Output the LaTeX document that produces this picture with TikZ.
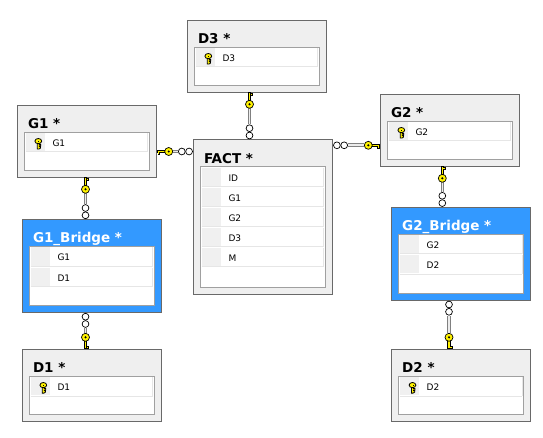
\documentclass[tikz,border=0pt]{standalone}
\usepackage{fontspec}
\setmainfont{DejaVu Sans}
\usetikzlibrary{calc}
\definecolor{bordergrey}{HTML}{696969}
\definecolor{panelgrey}{HTML}{EFEFEF}
\definecolor{framegrey}{HTML}{A0A0A0}
\definecolor{cellgrey}{HTML}{F0F0F0}
\definecolor{sepgrey}{HTML}{E6E6E6}
\definecolor{selblue}{HTML}{3399FF}
\definecolor{keyyellow}{HTML}{FFF200}
\tikzset{
  x=1pt,y=-1pt,
  tablebox/.style={draw=bordergrey,line width=1pt,fill=panelgrey,anchor=north west,minimum width=139.4pt,inner sep=0pt,outer sep=0pt},
  tableblue/.style={tablebox,fill=selblue},
  gridbox/.style={draw=framegrey,line width=1pt,fill=white,anchor=north west,minimum width=125.4pt,inner sep=0pt,outer sep=0pt},
  titletext/.style={anchor=base west,inner sep=0pt,font=\bfseries\fontsize{13.5}{14}\selectfont},
  titlewhite/.style={titletext,text=white},
  rowtext/.style={anchor=base west,inner sep=0pt,font=\fontsize{9}{10}\selectfont,text=black},
  selector/.style={fill=cellgrey,draw=none},
  sepline/.style={draw=sepgrey,line width=.8pt},
  relbar/.style={draw=gray,line width=3.6pt},
  relcore/.style={draw=white!85!gray,line width=1.6pt},
  chainlink/.style={draw=black,fill=white,line width=.7pt},
  keypart/.style={draw=black,fill=keyyellow,line width=.7pt},
}
\newcommand{\dbtable}[7]{%
  \node[#7,minimum height=#4 pt] (#1) at (#2,#3) {};
  \node[#5] (#1title) at ($(#1.north west)+(10.5,23.5)$) {#6};
  \node[gridbox,minimum height=#4 pt-34pt] (#1grid) at ($(#1.north west)+(7,27)$) {};
}
\newcommand{\dbrow}[4]{%
  \fill[selector] ($(#1grid.north west)+(1.5,1+20*#2)$) rectangle ($(#1grid.north west)+(20.5,19+20*#2)$);
  \draw[sepline] ($(#1grid.north west)+(1.5,19.6+20*#2)$) -- ($(#1grid.north east)+(-2,19.6+20*#2)$);
  \draw[sepline] ($(#1grid.north east)+(-2,1+20*#2)$) -- ($(#1grid.north east)+(-2,19.6+20*#2)$);
  \node[rowtext] (#4) at ($(#1grid.north west)+(28,14.5+20*#2)$) {#3};
}
\newcommand{\smallkey}[1]{%
  \begin{scope}[shift={($(#1grid.north west)+(14,11)$)}]
    \draw[keypart,line width=.8pt] (-1,0) -- (1,0) -- (1,1.2) -- (2.4,1.2) -- (2.4,2.6) -- (1,2.6) -- (1,3.4) -- (2.2,3.4) -- (2.2,4.8) -- (.6,5.8) -- (-1,5.8) -- cycle;
    \draw[keypart,line width=.8pt] (0,-2.2) ellipse (3.4 and 2.6);
    \fill[black] (0,-2.6) rectangle (1,-1.8);
  \end{scope}
}
% relation: key end, many end, direction angle, mirror factor
\newcommand{\relation}[4]{%
  \coordinate (ba) at ($(#1)!16pt!(#2)$);
  \coordinate (bb) at ($(#2)!15.5pt!(#1)$);
  \coordinate (ca) at ($(#2)!11.5pt!(#1)$);
  \coordinate (cb) at ($(#2)!4.2pt!(#1)$);
  \draw[relbar] (ba) -- (bb);
  \draw[relcore] (ba) -- (bb);
  \draw[chainlink] (ca) circle (3.4);
  \draw[chainlink] (cb) circle (3.4);
  \begin{scope}[shift={(#1)},rotate=#3,yscale=#4]
    \fill[keypart] (.5,-1.2) rectangle (9,1.2);
    \draw[black,line width=.7pt] (1.2,1.2) -- (1.2,3) -- (3,3) -- (3,1.2);
    \fill[keyyellow] (1.5,1) rectangle (2.7,2.7);
    \draw[keypart] (12,0) circle (4);
    \fill[black] (12,0) circle (1.2);
  \end{scope}
}
\begin{document}
\begin{tikzpicture}
\useasboundingbox (0,0) rectangle (543,438);
\fill[white] (0,0) rectangle (543,438);
\dbtable{dthree}{187.3}{20.3}{72}{titletext}{D3 *}{tablebox}
\dbrow{dthree}{0}{D3}{dthreeA}\smallkey{dthree}
\dbtable{gone}{17.3}{105.3}{72}{titletext}{G1 *}{tablebox}
\dbrow{gone}{0}{G1}{goneA}\smallkey{gone}
\dbtable{gtwo}{380.3}{94.3}{72}{titletext}{G2 *}{tablebox}
\dbrow{gtwo}{0}{G2}{gtwoA}\smallkey{gtwo}
\dbtable{fact}{193.3}{139.7}{155}{titletext}{FACT *}{tablebox}
\dbrow{fact}{0}{ID}{factA}\dbrow{fact}{1}{G1}{factB}\dbrow{fact}{2}{G2}{factC}\dbrow{fact}{3}{D3}{factD}\dbrow{fact}{4}{M}{factE}
\dbtable{gob}{22.3}{219.5}{93}{titlewhite}{G1\_Bridge *}{tableblue}
\dbrow{gob}{0}{G1}{gobA}\dbrow{gob}{1}{D1}{gobB}
\dbtable{gtb}{391.5}{207.3}{93}{titlewhite}{G2\_Bridge *}{tableblue}
\dbrow{gtb}{0}{G2}{gtbA}\dbrow{gtb}{1}{D2}{gtbB}
\dbtable{done}{22.3}{349.3}{72}{titletext}{D1 *}{tablebox}
\dbrow{done}{0}{D1}{doneA}\smallkey{done}
\dbtable{dtwo}{391.5}{349.3}{72}{titletext}{D2 *}{tablebox}
\dbrow{dtwo}{0}{D2}{dtwoA}\smallkey{dtwo}
\coordinate (xa) at (85.5,0);
\coordinate (xb) at (249.5,0);
\coordinate (xc) at (442.3,0);
\coordinate (xd) at (449,0);
\coordinate (ya) at (0,151.5);
\coordinate (yb) at (0,145.3);
\relation{gone.south -| xa}{gob.north -| xa}{-90}{-1}
\relation{dthree.south -| xb}{fact.north -| xb}{-90}{-1}
\relation{gtwo.south -| xc}{gtb.north -| xc}{-90}{-1}
\relation{done.north -| xa}{gob.south -| xa}{90}{1}
\relation{dtwo.north -| xd}{gtb.south -| xd}{90}{1}
\relation{gone.east |- ya}{fact.west |- ya}{0}{1}
\relation{gtwo.west |- yb}{fact.east |- yb}{180}{-1}
\end{tikzpicture}
\end{document}
